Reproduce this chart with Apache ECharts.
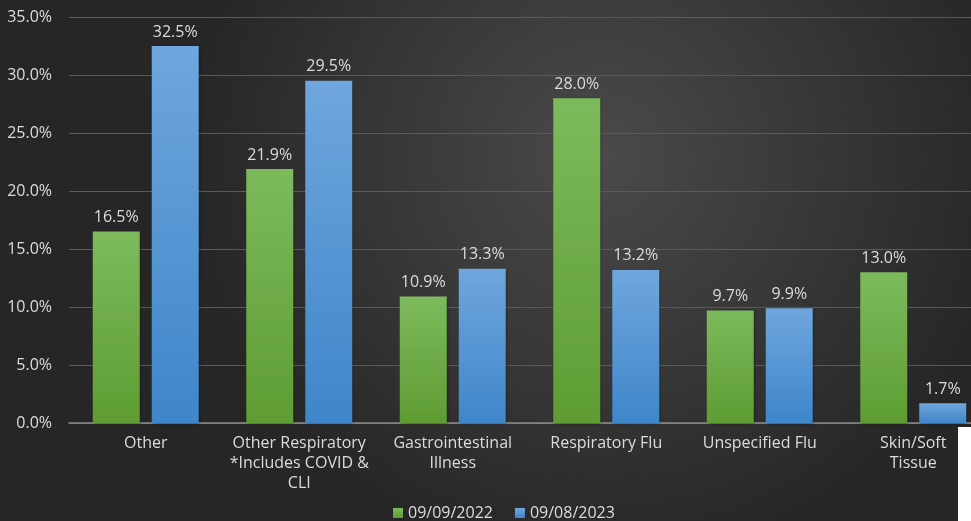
<!DOCTYPE html>
<html><head><meta charset="utf-8">
<script src="https://cdn.jsdelivr.net/npm/echarts@6/dist/echarts.min.js"></script>
<style>html,body{margin:0;padding:0;background:#333;}#c{width:971px;height:521px;}</style>
</head><body><div id="c"></div>
<script>
const categories = ["Other", "Other Respiratory\n*Includes COVID &\nCLI", "Gastrointestinal\nIllness", "Respiratory Flu", "Unspecified Flu", "Skin/Soft\nTissue"];
const series2022 = [16.5, 21.9, 10.9, 28.0, 9.7, 13.0];
const series2023 = [32.5, 29.5, 13.3, 13.2, 9.9, 1.7];
const seriesNames = ["09/09/2022", "09/08/2023"];

const font = "'Open Sans', 'Noto Sans', sans-serif";
const txt = '#dcdcdc';
const chart = echarts.init(document.getElementById('c'));
const grad = (a, b) => new echarts.graphic.LinearGradient(0, 0, 0, 1, [{offset: 0, color: a}, {offset: 1, color: b}]);
chart.setOption({
  backgroundColor: new echarts.graphic.RadialGradient(0.62, 0.3, 0.8, [
    {offset: 0, color: '#4a4a4a'}, {offset: 1, color: '#262626'}
  ]),
  textStyle: {fontFamily: font},
  grid: {left: 69, width: 921, top: 17, bottom: 98, containLabel: false, outerBoundsMode: 'none'},
  legend: {
    top: 500, left: 388, itemWidth: 10, itemHeight: 10, itemGap: 22,
    icon: 'rect',
    textStyle: {color: txt, fontSize: 16, fontFamily: font},
    data: seriesNames
  },
  xAxis: {
    type: 'category', data: categories,
    axisLine: {lineStyle: {color: '#8c8c8c', width: 1.5}},
    axisTick: {show: false},
    axisLabel: {color: txt, fontSize: 16, lineHeight: 20, margin: 10, interval: 0, fontFamily: font}
  },
  yAxis: {
    type: 'value', min: 0, max: 35, interval: 5,
    axisLabel: {color: txt, fontSize: 16, margin: 17, formatter: v => v.toFixed(1) + '%', fontFamily: font},
    splitLine: {lineStyle: {color: '#5a5a5a', width: 1}},
    axisLine: {show: false}, axisTick: {show: false}
  },
  series: [
    {
      name: seriesNames[0], type: 'bar', data: series2022, barWidth: 47, barGap: '25.5%',
      itemStyle: {color: grad('#7dba5c', '#5e9c33'), shadowColor: 'rgba(0,0,0,0.35)', shadowBlur: 3, shadowOffsetX: 1, shadowOffsetY: 1},
      label: {show: true, position: 'top', distance: 6, color: txt, fontSize: 16, fontFamily: font, formatter: p => p.value.toFixed(1) + '%'}
    },
    {
      name: seriesNames[1], type: 'bar', data: series2023, barWidth: 47, barGap: '25.5%',
      itemStyle: {color: grad('#6fa6dd', '#3e86ca'), shadowColor: 'rgba(0,0,0,0.35)', shadowBlur: 3, shadowOffsetX: 1, shadowOffsetY: 1},
      label: {show: true, position: 'top', distance: 6, color: txt, fontSize: 16, fontFamily: font, formatter: p => p.value.toFixed(1) + '%'}
    }
  ],
  color: ['#6aaa3f', '#5b9bd5'],
  graphic: [
    {type: 'rect', left: 958, top: 427, shape: {width: 13, height: 94}, style: {fill: '#ffffff'}, z: 100}
  ]
});
</script></body></html>
